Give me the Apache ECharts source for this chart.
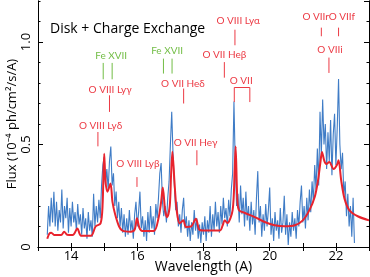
<!DOCTYPE html>
<html><head><meta charset="utf-8">
<script src="https://cdn.jsdelivr.net/npm/echarts@6/dist/echarts.min.js"></script>
<style>html,body{margin:0;padding:0;background:#fff}#c{width:370px;height:277px}</style>
</head><body><div id="c"></div>
<script>
// Observed spectrum (blue), sampled from 13.28 A every 0.04 A
const blueStart = 13.28, blueStep = 0.04;
const blueFlux = [
0.06,0.2,0.1,0.24,0.12,0.27, 0.1,0.22,0.08,0.18,0.12,0.28, 0.09,0.2,0.14,0.24,0.07,0.19,
0.1,0.22,0.12,0.17,0.08,0.21, 0.11,0.16,0.06,0.19,0.09,0.14, 0.04,0.17,0.08,0.13,0.05,0.26,
0.1,0.2,0.12,0.23,0.14,0.3, 0.4,0.44,0.3,0.38,0.28,0.42, 0.49,0.3,0.36,0.2,0.27,0.14,
0.22,0.1,0.19,0.07,0.16,0.05, 0.14,0.06,0.18,0.08,0.13,0.04, 0.16,0.22,0.1,0.17,0.27,0.09,
0.15,0.05,0.13,0.03,0.17,0.07, 0.2,0.09,0.15,0.06,0.21,0.14, 0.24,0.36,0.41,0.22,0.15,0.2,
0.12,0.24,0.32,0.5,0.66,0.45, 0.3,0.18,0.22,0.1,0.16,0.07, 0.18,0.24,0.09,0.15,0.05,0.13,
0.03,0.12,0.06,0.18,0.08,0.14, 0.04,0.11,0.02,0.12,0.06,0.15, 0.03,0.13,0.07,0.2,0.05,0.16,
0.08,0.22,0.1,0.17,0.07,0.2, 0.11,0.24,0.14,0.19,0.1,0.23, 0.15,0.28,0.36,0.71,0.4,0.2,
0.26,0.12,0.3,0.16,0.24,0.1, 0.27,0.13,0.2,0.08,0.22,0.11, 0.18,0.06,0.24,0.37,0.12,0.2,
0.05,0.16,0.08,0.21,0.1,0.18, 0.29,0.06,0.14,0.03,0.17,0.08, 0.13,0.04,0.19,0.07,0.12,0.25,
0.06,0.16,0.01,0.12,0.05,0.17, 0.08,0.14,0.04,0.18,0.1,0.22, 0.3,0.12,0.2,0.09,0.24,0.13,
0.28,0.17,0.32,0.22,0.4,0.28, 0.48,0.3,0.66,0.45,0.72,0.5, 0.6,0.38,0.56,0.42,0.62,0.35,
0.55,0.65,0.4,0.58,0.82,0.5, 0.38,0.46,0.25,0.32,0.15,0.26, 0.1,0.2,0.05,0.24,0.02
];
// Model (red)
const modelWave = [13.28,13.34,13.4,13.5,13.7,13.79,13.88,14.05,14.19,14.3,14.6,14.74,14.89,14.95,15.0,15.04,15.1,15.19,15.25,15.33,15.45,15.55,15.8,15.92,15.99,16.06,16.15,16.5,16.64,16.72,16.77,16.84,16.9,16.98,17.02,17.06,17.12,17.17,17.22,17.28,17.39,17.47,17.62,17.77,17.87,18.0,18.5,18.58,18.64,18.72,18.88,18.94,18.97,19.02,19.07,19.25,19.55,19.85,20.15,20.45,20.76,21.0,21.2,21.36,21.46,21.53,21.58,21.65,21.71,21.8,21.93,22.03,22.08,22.16,22.26,22.41,22.66,23.0];
const modelFlux = [0.04,0.065,0.07,0.058,0.058,0.075,0.06,0.058,0.09,0.055,0.055,0.1,0.115,0.2,0.455,0.32,0.27,0.31,0.22,0.16,0.1,0.08,0.075,0.085,0.14,0.095,0.078,0.078,0.14,0.22,0.29,0.18,0.145,0.2,0.35,0.465,0.325,0.21,0.145,0.115,0.13,0.098,0.1,0.138,0.085,0.081,0.081,0.106,0.13,0.117,0.18,0.37,0.49,0.24,0.18,0.166,0.146,0.122,0.106,0.101,0.106,0.13,0.18,0.244,0.325,0.41,0.463,0.42,0.405,0.415,0.38,0.4,0.423,0.325,0.236,0.179,0.15,0.13];

// Line identification labels
const labelText = ['Fe XVII','Fe XVII','O VIII Lyγ','O VIII Lyδ','O VIII Lyβ','O VII Heδ','O VII Heγ','O VII Heβ','O VIII Lyα','O VII','O VIIr','O VIIf','O VIIi'];
const labelX    = [15.21,16.9,15.18,14.89,16.02,17.38,17.76,18.63,19.05,19.14,21.39,22.18,21.82];
const labelY    = [0.935,0.956,0.768,0.589,0.407,0.797,0.507,0.938,1.102,0.81,1.125,1.125,0.96];
const labelGreen= [true,true,false,false,false,false,false,false,false,false,false,false,false];
const markX  = [14.97,15.24,16.79,17.05,15.16,14.81,15.99,17.4,17.8,18.63,18.95,21.56,22.08,21.79];
const markY1 = [0.818,0.818,0.846,0.846,0.659,0.491,0.293,0.7,0.399,0.826,0.984,1.028,1.028,0.849];
const markY2 = [0.898,0.898,0.919,0.919,0.74,0.561,0.341,0.773,0.472,0.902,1.06,1.07,1.07,0.924];
const markGreen = [true,true,true,true,false,false,false,false,false,false,false,false,false,false];
const bracketX = [18.93,19.4];
const bracketY = [0.707,0.778];

const xTickLabels = [14,16,18,20,22];
const yTickLabels = [0,0.5,1.0];

const RED = '#ec3a44', GREEN = '#72bd45';
const FONT = '"Open Sans", "Noto Sans", sans-serif';
const AFONT = 'Lato, "Open Sans", sans-serif';

const chart = echarts.init(document.getElementById('c'), null, {renderer:'canvas'});
const blueData = blueFlux.map((v,i)=>[+(blueStart + i*blueStep).toFixed(2), v]);
const modelData = modelWave.map((w,i)=>[w, modelFlux[i]]);

function yAx(pos, interval, len, labels){
  return {type:'value', min:0, max:1.2, interval:interval, position:pos,
    axisLine:{show:true, lineStyle:{color:'#000', width:1}},
    axisTick:{show:true, inside:true, length:len, lineStyle:{color:'#000'}},
    axisLabel: labels ? {show:true, rotate:90, margin:5, color:'#000', fontSize:13, fontFamily:FONT,
      showMaxLabel:false,
      formatter: v => yTickLabels.some(t=>Math.abs(t-v)<1e-6) ? (v===0?'0':v.toFixed(1)) : ''} : {show:false},
    splitLine:{show:false},
    name: labels ? 'Flux (10⁻⁴ ph/cm²/s/A)' : '', nameLocation:'middle', nameGap:19, nameMoveOverlap:false,
    nameTextStyle:{color:'#000', fontSize:13, fontFamily:FONT}
  };
}

chart.setOption({
  animation:false,
  grid:{left:38, right:1, top:1, bottom:30, containLabel:false, outerBoundsMode:'none'},
  xAxis:[
    {type:'value', min:13, max:23, interval:1, position:'bottom',
     axisLine:{show:true, lineStyle:{color:'#000', width:1}},
     axisTick:{show:true, inside:true, length:4, lineStyle:{color:'#000'}},
     axisLabel:{color:'#000', fontSize:13, fontFamily:FONT, margin:3,
       formatter: v => xTickLabels.indexOf(v) >= 0 ? String(v) : ''},
     splitLine:{show:false},
     name:'Wavelength (A)', nameLocation:'middle', nameGap:13, nameMoveOverlap:false,
     nameTextStyle:{color:'#000', fontSize:14, fontFamily:FONT}},
    {type:'value', min:13, max:23, interval:1, position:'top',
     axisLine:{show:true, lineStyle:{color:'#000', width:1}},
     axisTick:{show:true, inside:true, length:4, lineStyle:{color:'#000'}},
     axisLabel:{show:false}, splitLine:{show:false}}
  ],
  yAxis:[
    yAx('left',0.5,5,true), yAx('left',0.1,2.5,false),
    yAx('right',0.5,5,false), yAx('right',0.1,2.5,false)
  ],
  graphic:[{type:'text', left:50, top:22, style:{text:'Disk + Charge Exchange', fill:'#000', font:'14px '+FONT}}],
  series:[
    {type:'line', data:blueData, showSymbol:false, symbol:'none', lineStyle:{color:'#3f7cc6', width:1.1}, z:2},
    {type:'line', data:modelData, showSymbol:false, symbol:'none', smooth:0.3, lineStyle:{color:'#e8232d', width:2}, z:3},
    {type:'custom', z:5, silent:true, clip:false,
     data:[[0,0]],
     renderItem:function(params, api){
       const children = [];
       for (let i=0;i<markX.length;i++){
         const p1 = api.coord([markX[i], markY1[i]]), p2 = api.coord([markX[i], markY2[i]]);
         children.push({type:'line', shape:{x1:p1[0],y1:p1[1],x2:p2[0],y2:p2[1]},
           style:{stroke: markGreen[i]?GREEN:RED, lineWidth:1}});
       }
       const b1 = api.coord([bracketX[0], bracketY[0]]), b2 = api.coord([bracketX[0], bracketY[1]]);
       const b3 = api.coord([bracketX[1], bracketY[1]]), b4 = api.coord([bracketX[1], bracketY[0]]);
       children.push({type:'polyline', shape:{points:[b1,b2,b3,b4]}, style:{stroke:RED, lineWidth:1, fill:null}});
       for (let i=0;i<labelText.length;i++){
         const p = api.coord([labelX[i], labelY[i]]);
         children.push({type:'text', x:p[0], y:p[1], style:{text:labelText[i], fill: labelGreen[i]?GREEN:RED,
           font:'10px '+AFONT, align:'center', verticalAlign:'middle'}});
       }
       return {type:'group', children:children};
     }}
  ]
});
</script></body></html>
